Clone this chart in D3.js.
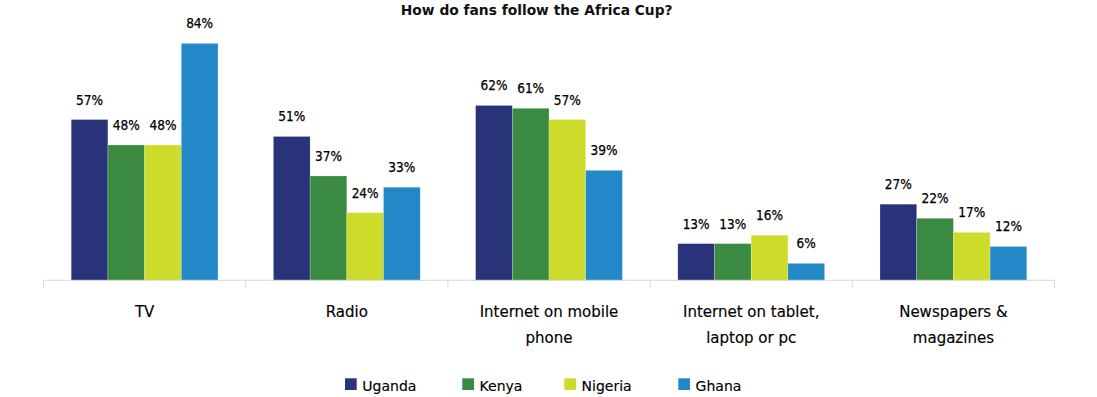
<!DOCTYPE html>
<html>
<head>
<meta charset="utf-8">
<script src="https://cdn.jsdelivr.net/npm/d3@7"></script>
<style>
  html, body { margin: 0; padding: 0; background: #fff; }
  svg { display: block; }
  text { font-family: "DejaVu Sans", Verdana, sans-serif; fill: #111; }
  text.val { font-family: "DejaVu Sans Condensed", "DejaVu Sans", sans-serif; font-stretch: condensed; fill: #000; stroke: #000; stroke-width: 0.25px; }
  text.cat, text.leg { fill: #000; stroke: #000; stroke-width: 0.15px; }
</style>
</head>
<body>
<svg id="chart" width="1097" height="397"></svg>
<script>
const title = "How do fans follow the Africa Cup?";
const categories = ["TV", "Radio", "Internet on mobile phone", "Internet on tablet, laptop or pc", "Newspapers & magazines"];
const categoryLines = [["TV"], ["Radio"], ["Internet on mobile", "phone"], ["Internet on tablet,", "laptop or pc"], ["Newspapers &", "magazines"]];
const series = ["Uganda", "Kenya", "Nigeria", "Ghana"];
const uganda  = [57, 51, 62, 13, 27];
const kenya   = [48, 37, 61, 13, 22];
const nigeria = [48, 24, 57, 16, 17];
const ghana   = [84, 33, 39, 6, 12];
const colors = ["#29337a", "#3a8a41", "#cddc2a", "#2388c8"];

const values = [uganda, kenya, nigeria, ghana];
const data = categories.map((c, i) => ({
  cat: c,
  lines: categoryLines[i],
  vals: series.map((s, j) => ({ series: s, value: values[j][i], color: colors[j] }))
}));

const svg = d3.select("#chart");
const axisY = 280.3;

const x = d3.scaleBand().domain(categories).range([43.5, 1054.5]).paddingInner(0).paddingOuter(0);
const xs = d3.scaleBand().domain(series).range([0, x.bandwidth()]).paddingInner(0).paddingOuter(0.755);
const y = d3.scaleLinear().domain([0, 100]).range([axisY, axisY - 282]);

// title
svg.append("text")
  .attr("x", 536.7).attr("y", 15)
  .attr("text-anchor", "middle")
  .style("font-size", "13.8px").style("font-weight", "bold")
  .text(title);

// bars
const groups = svg.append("g").selectAll("g").data(data).join("g")
  .attr("transform", d => `translate(${x(d.cat)},0)`);

groups.selectAll("rect").data(d => d.vals).join("rect")
  .attr("x", d => xs(d.series))
  .attr("width", xs.bandwidth())
  .attr("y", d => y(d.value))
  .attr("height", d => axisY - y(d.value))
  .attr("fill", d => d.color)
  .attr("stroke", "rgba(255,255,255,0.35)")
  .attr("stroke-width", 0.6);

groups.selectAll("text.val").data(d => d.vals).join("text")
  .attr("class", "val")
  .attr("x", d => xs(d.series) + xs.bandwidth() / 2)
  .attr("y", d => y(d.value) - 15)
  .attr("text-anchor", "middle")
  .style("font-size", "13.5px")
  .text(d => d.value + "%");

// axis
const axis = d3.axisBottom(x).tickSize(0).tickFormat("");
const gAxis = svg.append("g").attr("transform", `translate(0,${axisY})`).call(axis);
gAxis.select(".domain").attr("stroke", "#d9d9d9").attr("stroke-width", 1).attr("d", `M${x.range()[0]},0H${x.range()[1]}`);
const bounds = categories.map(c => x(c)).concat([x(categories[categories.length - 1]) + x.bandwidth()]);
gAxis.selectAll("line.bound").data(bounds).join("line")
  .attr("class", "bound")
  .attr("x1", d => d).attr("x2", d => d)
  .attr("y1", 0).attr("y2", 8)
  .attr("stroke", "#d9d9d9").attr("stroke-width", 1);

// category labels
const catLabels = svg.append("g").selectAll("text").data(data).join("text")
  .attr("class", "cat")
  .attr("x", d => x(d.cat) + x.bandwidth() / 2)
  .attr("y", 316.7)
  .attr("text-anchor", "middle")
  .style("font-size", "15px");
catLabels.selectAll("tspan").data(d => d.lines).join("tspan")
  .attr("x", function () { return d3.select(this.parentNode).attr("x"); })
  .attr("dy", (d, i) => i === 0 ? 0 : 26.6)
  .text(d => d);

// legend
const legendX = [345, 462.3, 564.3, 678.3];
const legend = svg.append("g").selectAll("g").data(series).join("g")
  .attr("transform", (d, i) => `translate(${legendX[i]},378.3)`);
legend.append("rect")
  .attr("width", 11.7).attr("height", 11.7)
  .attr("fill", (d, i) => colors[i]);
legend.append("text")
  .attr("class", "leg")
  .attr("x", 17.3).attr("y", 12.6)
  .style("font-size", "14px")
  .text(d => d);
</script>
</body>
</html>
